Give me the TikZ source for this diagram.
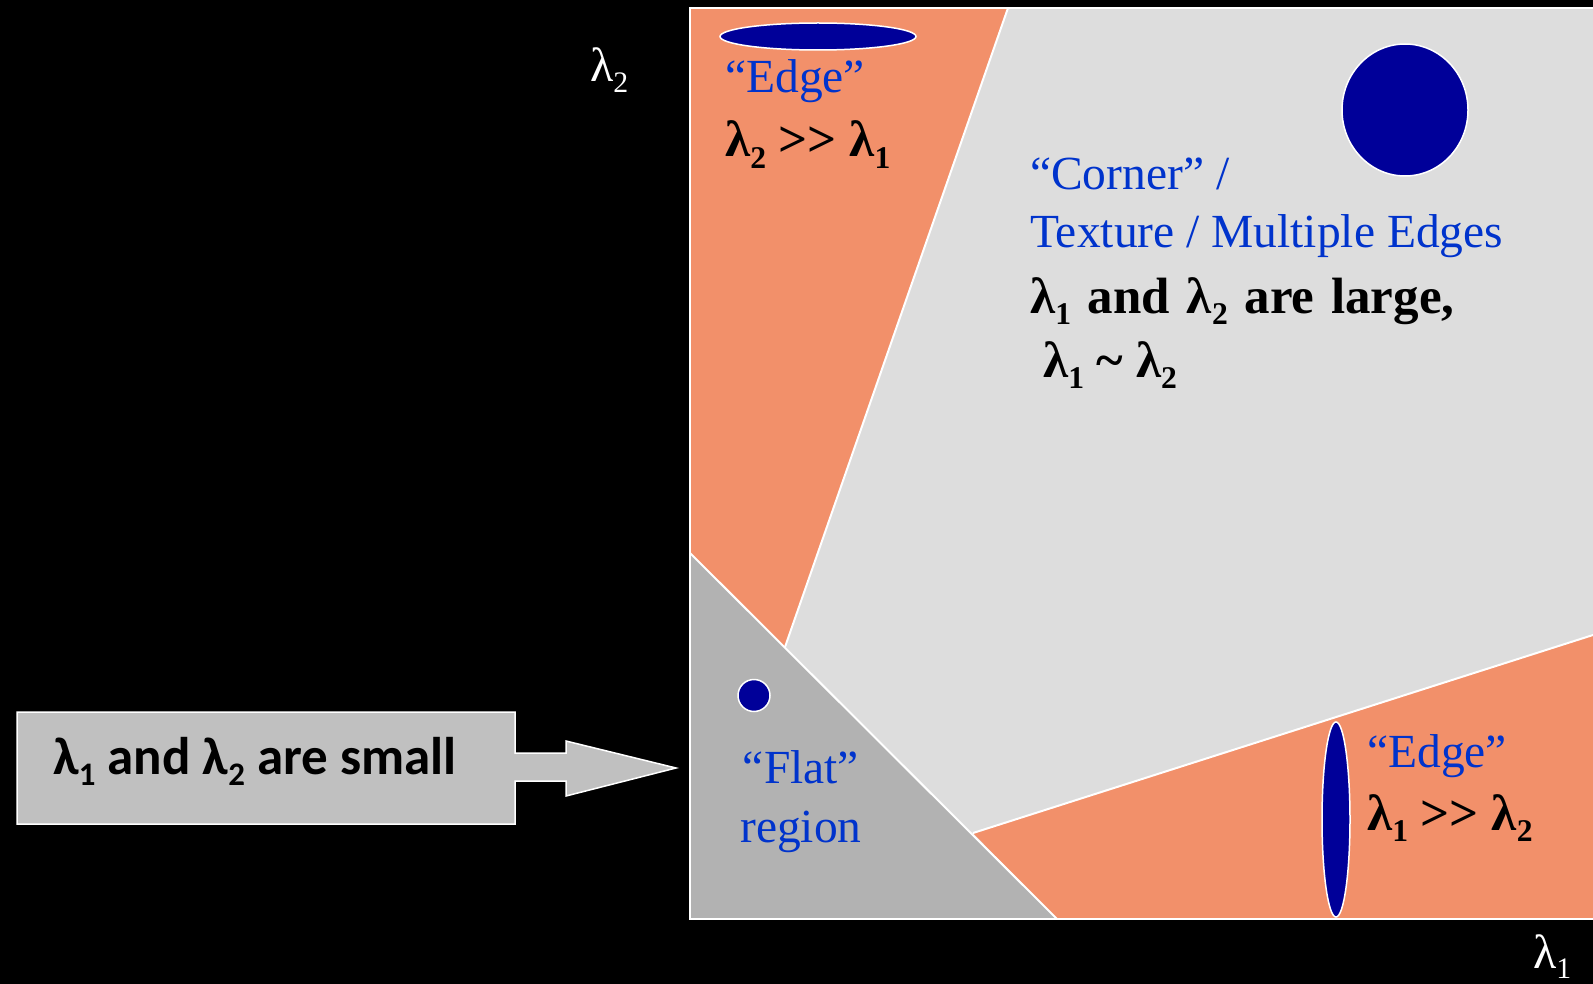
\documentclass[tikz,border=0pt]{standalone}
\usepackage{fontspec}
\usepackage{graphicx}
\setmainfont{Liberation Serif}
\newfontfamily\calib{Carlito}
\definecolor{orng}{HTML}{F2906A}
\definecolor{lgray}{HTML}{DDDDDD}
\definecolor{flatg}{HTML}{B2B2B2}
\definecolor{boxg}{HTML}{C0C0C0}
\definecolor{txtblue}{HTML}{0033CC}
\definecolor{dblue}{HTML}{000099}
\newcommand\lsub[1]{\raisebox{-0.22em}{\scalebox{0.62}{#1}}}
\newcommand\mygtgt{>\kern0pt>}
\tikzset{
  sep/.style={draw=white, line width=2pt},
  blob/.style={fill=dblue, draw=white, line width=1.5pt},
  bluetxt/.style={text=txtblue, inner sep=0pt, anchor=base west, font=\fontsize{47.5}{57}\selectfont},
  boldtxt/.style={text=black, inner sep=0pt, anchor=base west, font=\fontsize{51}{60}\selectfont\bfseries},
  axistxt/.style={text=white, inner sep=0pt, anchor=base west, font=\fontsize{48}{57}\selectfont},
  callout/.style={fill=boxg, draw=white, line width=1.5pt}
}
\begin{document}
\begin{tikzpicture}[x=1pt,y=-1pt]
\useasboundingbox (0,0) rectangle (1593,984);
\fill[black] (0,0) rectangle (1593,984);
% plot area corners
\coordinate (TL) at (690,8);
\coordinate (TR) at (1593,8);
\coordinate (BR) at (1593,919);
\coordinate (BL) at (690,919);
% region boundaries
\coordinate (A) at (1008,8);
\coordinate (B) at (785,647);
\coordinate (C) at (690,553);
\coordinate (D) at (1057,919);
\coordinate (E) at (973,833);
\coordinate (F) at (1593,635);
\fill[lgray] (TL) rectangle (BR);
\fill[orng] (TL) -- (A) -- (B) -- (C) -- cycle;
\fill[flatg] (C) -- (BL) -- (D) -- cycle;
\fill[orng] (E) -- (F) -- (BR) -- (D) -- cycle;
\draw[sep] (A) -- (B);
\draw[sep] (C) -- (D);
\draw[sep] (E) -- (F);
\draw[sep] (TR) -- (TL) -- (BL) -- (BR);
% ellipses
\path[blob] (818,36.5) ellipse [x radius=98pt, y radius=13.5pt];
\path[blob] (1405,110) ellipse [x radius=63pt, y radius=66pt];
\path[blob] (754,695.5) circle [radius=16pt];
\path[blob] (1336,819.5) ellipse [x radius=14pt, y radius=97.5pt];
% texts
\node[bluetxt] (edge1) at (725,93) {“Edge”};
\node[boldtxt] (rel1) at (725,157) {λ\lsub{2} \mygtgt{} λ\lsub{1}};
\node[bluetxt] (corner) at (1030,190) {“Corner” /};
\node[bluetxt] (texture) at (1030,248) {Texture / Multiple Edges};
\node[boldtxt] (large) at (1030,313) {\spaceskip=0.33em plus 0.1em λ\lsub{1} and λ\lsub{2} are large,};
\node[boldtxt] (sim) at (1043,377) {λ\lsub{1} \textasciitilde{} λ\lsub{2}};
\node[bluetxt, anchor=base] (flat) at (801,783) {“Flat”};
\node[bluetxt, anchor=base] (region) at (801,842) {region};
\node[bluetxt] (edge2) at (1367,767) {“Edge”};
\node[boldtxt] (rel2) at (1367,830) {λ\lsub{1} \mygtgt{} λ\lsub{2}};
\node[axistxt] (ax2) at (590,82) {λ\lsub{2}};
\node[axistxt] (ax1) at (1533,968) {λ\lsub{1}};
% callout box with arrow
\path[callout] (17,712) -- (515,712) -- (515,753) -- (566,753) -- (566,741) -- (676,768)
  -- (566,796) -- (566,781) -- (515,781) -- (515,824) -- (17,824) -- cycle;
\node[text=black, inner sep=0pt, anchor=base west, font=\calib\fontsize{53}{63}\selectfont\bfseries] (small) at (53,774) {λ\lsub{1} and λ\lsub{2} are small};
\end{tikzpicture}
\end{document}
